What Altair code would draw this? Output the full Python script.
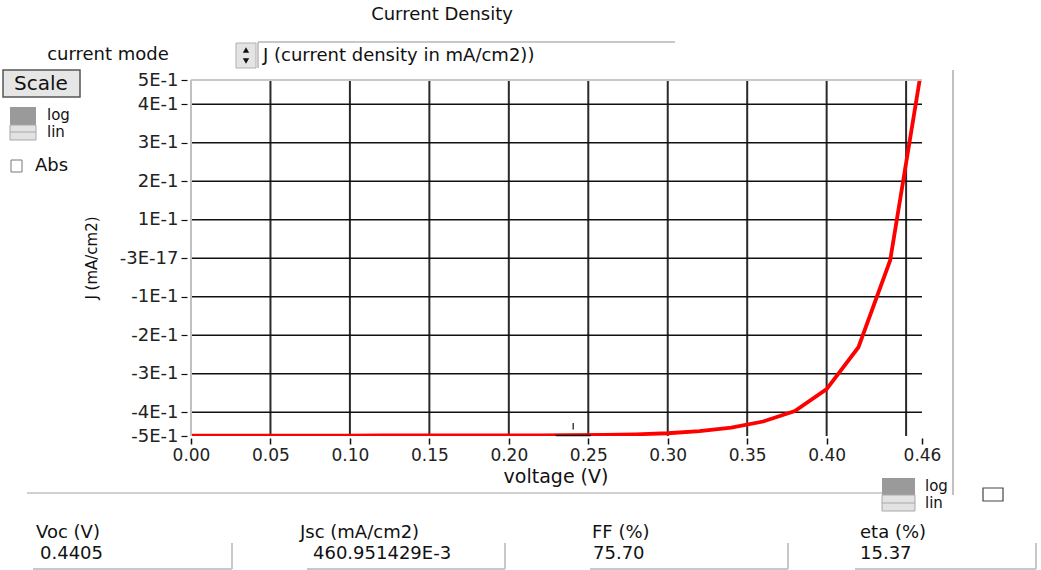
import altair as alt
import pandas as pd

FONT = "DejaVu Sans"
PL, PT, W, H = 191, 80, 731, 356  # plot origin and size (pixels)

# ---- data ----
voltage = [0.00, 0.02, 0.04, 0.06, 0.08, 0.10, 0.12, 0.14, 0.16, 0.18, 0.20, 0.22,
           0.24, 0.26, 0.28, 0.30, 0.32, 0.34, 0.36, 0.38, 0.40, 0.42, 0.44, 0.46]
current = [-0.4610, -0.4610, -0.4610, -0.4610, -0.4610, -0.4610, -0.4600, -0.4600,
           -0.4600, -0.4600, -0.4600, -0.4598, -0.4595, -0.4588, -0.4572, -0.4545,
           -0.4490, -0.4400, -0.4240, -0.3970, -0.3400, -0.2310, -0.0050, 0.5000]

x_ticks = [0.00, 0.05, 0.10, 0.15, 0.20, 0.25, 0.30, 0.35, 0.40, 0.46]
x_grid = [0.05, 0.10, 0.15, 0.20, 0.25, 0.30, 0.35, 0.40, 0.45]
y_min, y_max = -0.4616, 0.4630
y_grid = [-0.4, -0.3, -0.2, -0.1, 0.0, 0.1, 0.2, 0.3, 0.4]
y_ticks = [y_min] + y_grid + [y_max]
y_labels = ["-5E-1", "-4E-1", "-3E-1", "-2E-1", "-1E-1", "-3E-17",
            "1E-1", "2E-1", "3E-1", "4E-1", "5E-1"]

cursor_v = 0.2405
result_names = ["Voc (V)", "Jsc (mA/cm2)", "FF  (%)", "eta (%)"]
result_values = ["0.4405", "460.951429E-3", "75.70", "15.37"]

curve_df = pd.DataFrame({"V": voltage, "J": current})

xs = alt.Scale(domain=[0, 0.46], nice=False, zero=False)
ys = alt.Scale(domain=[y_min, y_max], nice=False, zero=False)

label_expr = "[" + ",".join("'%s'" % s for s in y_labels) + "][round((datum.value + 0.5) * 10)]"

x_axis = alt.Axis(values=x_ticks, format=".2f", title=None, grid=False, domain=False,
                  offset=2, tickSize=6, tickColor="#111", tickWidth=1.5, labelPadding=3,
                  labelFont=FONT, labelFontSize=17, labelColor="#222",
                  labelFlush=False, labelOverlap=False)
y_axis = alt.Axis(values=y_ticks, labelExpr=label_expr, title=None, grid=False, domain=False,
                  offset=4, tickSize=6, tickColor="#111", tickWidth=1.2, labelPadding=3,
                  labelFont=FONT, labelFontSize=18, labelColor="#222",
                  labelFlush=False, labelOverlap=False)

X = alt.X("V:Q", scale=xs, axis=x_axis)
Y = alt.Y("J:Q", scale=ys, axis=y_axis)

vgrid = alt.Chart(pd.DataFrame({"V": x_grid})).mark_rule(
    color="#2a2a2a", strokeWidth=2).encode(x=X)
hgrid = alt.Chart(pd.DataFrame({"J": y_grid})).mark_rule(
    color="#111", strokeWidth=1.4).encode(y=Y)

curve = alt.Chart(curve_df).mark_line(color="#ff0000", strokeWidth=3.8, clip=True).encode(x=X, y=Y)

cursor_df = pd.DataFrame({"V": [cursor_v - 0.011], "V2": [cursor_v + 0.011],
                          "J": [-0.4605]})
cursor_h = alt.Chart(cursor_df).mark_rule(color="#111", strokeWidth=1.5).encode(
    x=X, x2="V2:Q", y=Y)
cursor_v_df = pd.DataFrame({"V": [cursor_v], "J": [-0.445], "J2": [-0.428]})
cursor_vl = alt.Chart(cursor_v_df).mark_rule(color="#111", strokeWidth=1.2).encode(
    x=X, y=Y, y2="J2:Q")


def px(x):
    return x - PL


def py(y):
    return y - PT


def text(label, x, y, size=18, align="left", angle=0, color="#111", font=FONT):
    return alt.Chart(pd.DataFrame({"t": [label]})).mark_text(
        align=align, baseline="middle", fontSize=size, font=font, color=color,
        angle=angle).encode(x=alt.value(px(x)), y=alt.value(py(y)), text="t:N")


def rect(x1, y1, x2, y2, fill, stroke=None, sw=1):
    kw = dict(fill=fill)
    if stroke:
        kw.update(stroke=stroke, strokeWidth=sw)
    return alt.Chart(pd.DataFrame({"a": [0]})).mark_rect(**kw).encode(
        x=alt.value(px(x1)), x2=alt.value(px(x2)), y=alt.value(py(y1)), y2=alt.value(py(y2)))


def hline(x1, x2, y, color="#c8c8c8", sw=1.5):
    return alt.Chart(pd.DataFrame({"a": [0]})).mark_rule(color=color, strokeWidth=sw).encode(
        x=alt.value(px(x1)), x2=alt.value(px(x2)), y=alt.value(py(y)))


def vline(x, y1, y2, color="#c8c8c8", sw=1.5):
    return alt.Chart(pd.DataFrame({"a": [0]})).mark_rule(color=color, strokeWidth=sw).encode(
        x=alt.value(px(x)), y=alt.value(py(y1)), y2=alt.value(py(y2)))


def tri(x, y, shape):
    return alt.Chart(pd.DataFrame({"a": [0]})).mark_point(
        shape=shape, filled=True, size=40, color="#111", opacity=1).encode(
        x=alt.value(px(x)), y=alt.value(py(y)))


deco = [
    # plot frame edges (top and left light gray)
    hline(PL, PL + W, PT, "#c8c8c8", 2),
    vline(PL, PT, PT + H, "#c0c0c0", 2),
    text("Current Density", 442, 15, 18, "center"),
    text("current mode", 108, 55, 18, "center"),
    rect(236, 43, 256, 68, "#e4e4e4", "#b0b0b0"),
    tri(246, 50, "triangle-up"),
    tri(246, 61, "triangle-down"),
    hline(258, 675, 42, "#c8c8c8", 2),
    vline(258, 42, 68, "#c8c8c8", 2),
    text("J (current density in mA/cm2))", 263, 56, 18),
    rect(3, 70, 80, 97, "#e6e6e6", "#555", 1.5),
    text("Scale", 41, 84, 20, "center"),
    rect(10, 107, 36, 125, "#9a9a9a"),
    rect(10, 125, 36, 140, "#e2e2e2", "#a8a8a8"),
    hline(10, 36, 132, "#a8a8a8", 1),
    text("log", 47, 115, 15),
    text("lin", 47, 132, 15),
    rect(11, 160, 22, 172, "white", "#777"),
    text("Abs", 35, 166, 18),
    text("J (mA/cm2)", 92, 258, 15, "center", angle=270),
    text("voltage (V)", 556, 477, 19, "center"),
    hline(27, 882, 493, "#c0c0c0", 1.5),
    vline(953, 70, 495, "#c0c0c0", 2),
    rect(882, 478, 915, 495, "#9a9a9a"),
    rect(882, 495, 915, 511, "#e2e2e2", "#a8a8a8"),
    hline(882, 915, 503, "#a8a8a8", 1),
    text("log", 925, 486, 15),
    text("lin", 925, 503, 15),
    rect(983, 488, 1003, 501, "white", "#444", 1.2),
]

name_x = [36, 300, 592, 860]
value_x = [40, 313, 593, 860]
box_right = [232, 505, 788, 1036]
box_left = [33, 307, 590, 855]
for i in range(4):
    deco.append(text(result_names[i], name_x[i], 533, 18))
    deco.append(text(result_values[i], value_x[i], 554, 18))
    deco.append(vline(box_right[i], 543, 569, "#c8c8c8", 2))
    deco.append(hline(box_left[i], box_right[i], 569, "#c8c8c8", 2))

chart = alt.layer(vgrid, hgrid, curve, cursor_h, cursor_vl, *deco).properties(
    width=W, height=H,
    autosize=alt.AutoSizeParams(type="none"),
    padding={"left": PL, "top": PT, "right": 1041 - PL - W, "bottom": 570 - PT - H},
    background="white",
).configure_view(stroke=None)

chart.save("out.html", embed_options={"renderer": "svg", "actions": False})
